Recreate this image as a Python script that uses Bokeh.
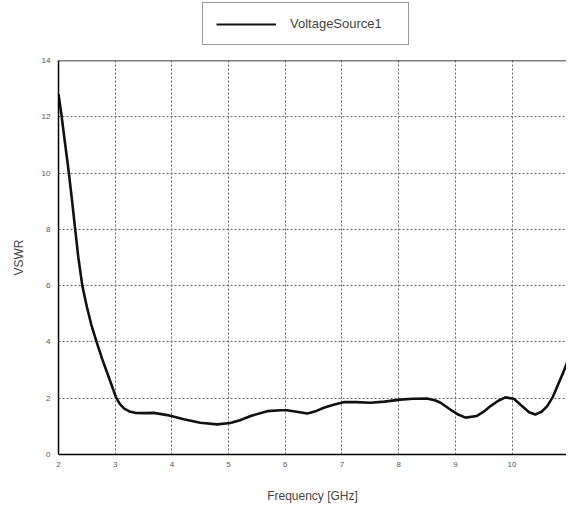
from bokeh.plotting import figure
from bokeh.layouts import column
from bokeh.models import (Legend, LegendItem, Span, FixedTicker, Range1d)
from bokeh.embed import file_html
from bokeh.resources import INLINE

# ---- data ----
freq_ghz = [2.00, 2.05, 2.10, 2.18, 2.24, 2.30, 2.35, 2.42, 2.50, 2.58, 2.68, 2.77,
            2.85, 2.94, 3.01, 3.08, 3.16, 3.25, 3.35, 3.50, 3.68, 3.92, 4.21, 4.50,
            4.80, 5.03, 5.20, 5.39, 5.68, 5.92, 6.03, 6.20, 6.39, 6.55, 6.68, 6.85,
            7.03, 7.25, 7.50, 7.75, 8.03, 8.25, 8.50, 8.65, 8.74, 8.91, 9.05, 9.18,
            9.38, 9.50, 9.62, 9.75, 9.88, 10.03, 10.21, 10.30, 10.41, 10.52, 10.62,
            10.72, 10.80, 10.90, 10.99]
vswr = [12.8, 12.1, 11.3, 10.05, 9.0, 7.9, 7.0, 6.0, 5.25, 4.6, 3.95, 3.4,
        2.95, 2.45, 2.05, 1.80, 1.63, 1.53, 1.48, 1.47, 1.48, 1.40, 1.25, 1.13,
        1.07, 1.12, 1.22, 1.37, 1.54, 1.57, 1.57, 1.52, 1.46, 1.55, 1.66, 1.77,
        1.86, 1.86, 1.84, 1.88, 1.95, 1.98, 1.99, 1.92, 1.84, 1.60, 1.42, 1.31,
        1.37, 1.52, 1.72, 1.90, 2.03, 1.98, 1.66, 1.50, 1.42, 1.52, 1.72,
        2.05, 2.43, 2.90, 3.37]
x_ticks = [2, 3, 4, 5, 6, 7, 8, 9, 10]
y_ticks = [0, 2, 4, 6, 8, 10, 12, 14]
series_name = "VoltageSource1"
x_title = "Frequency [GHz]"
y_title = "VSWR"

FONT = "Liberation Sans"
LINE_COLOR = "#111111"
LINE_WIDTH = 2.6

# ---- main chart ----
p = figure(width=566, height=450, output_backend="svg", toolbar_location=None,
           x_range=Range1d(2, 10.96), y_range=Range1d(0, 14),
           min_border_left=58, min_border_right=0, min_border_bottom=48,
           min_border_top=5)
p.outline_line_color = None
p.background_fill_color = "white"
p.border_fill_color = "white"

p.line(freq_ghz, vswr, line_color=LINE_COLOR, line_width=LINE_WIDTH,
       line_join="round")

for ax in (p.xaxis[0], p.yaxis[0]):
    ax.axis_line_color = "black"
    ax.axis_line_width = 1.5
    ax.major_tick_out = 0
    ax.major_tick_in = 0
    ax.minor_tick_out = 0
    ax.minor_tick_in = 0
    ax.major_label_text_font = FONT
    ax.major_label_text_font_size = "8px"
    ax.major_label_text_color = "#555555"
    ax.axis_label_text_font = FONT
    ax.axis_label_text_font_style = "normal"
    ax.axis_label_text_color = "#444444"
    ax.axis_label_text_font_size = "12px"

p.xaxis.ticker = FixedTicker(ticks=x_ticks)
p.yaxis.ticker = FixedTicker(ticks=y_ticks)
p.xaxis.axis_label = x_title
p.yaxis.axis_label = y_title
p.xaxis.major_label_standoff = 7
p.xaxis.axis_label_standoff = 19
p.yaxis.major_label_standoff = 8
p.yaxis.axis_label_standoff = 13

for g in (p.xgrid[0], p.ygrid[0]):
    g.grid_line_color = "#666666"
    g.grid_line_dash = "2 2"
    g.grid_line_width = 1

top_border = Span(location=14, dimension="width", line_color="black", line_width=1.5)
p.add_layout(top_border)

# ---- legend strip above the chart (same x range, data lies outside its y view) ----
top = figure(width=566, height=55, output_backend="svg", toolbar_location=None,
             x_range=p.x_range, y_range=Range1d(100, 101),
             x_axis_type=None, y_axis_type=None,
             min_border_left=58, min_border_right=0,
             min_border_top=0, min_border_bottom=0)
top.xgrid.visible = False
top.ygrid.visible = False
top.outline_line_color = None
legend_r = top.line(freq_ghz, vswr, line_color=LINE_COLOR, line_width=2)
legend = Legend(items=[LegendItem(label=series_name, renderers=[legend_r])],
                location=(144, 10),
                border_line_color="#333333", border_line_width=1,
                background_fill_alpha=0,
                padding=13, margin=0, spacing=0,
                glyph_width=60, glyph_height=14, label_height=14,
                label_standoff=14, label_width=105,
                label_text_font=FONT, label_text_font_size="13px",
                label_text_color="#444444")
top.add_layout(legend, "center")

layout = column(top, p, spacing=0)
open("out.html", "w").write(file_html(layout, INLINE))
